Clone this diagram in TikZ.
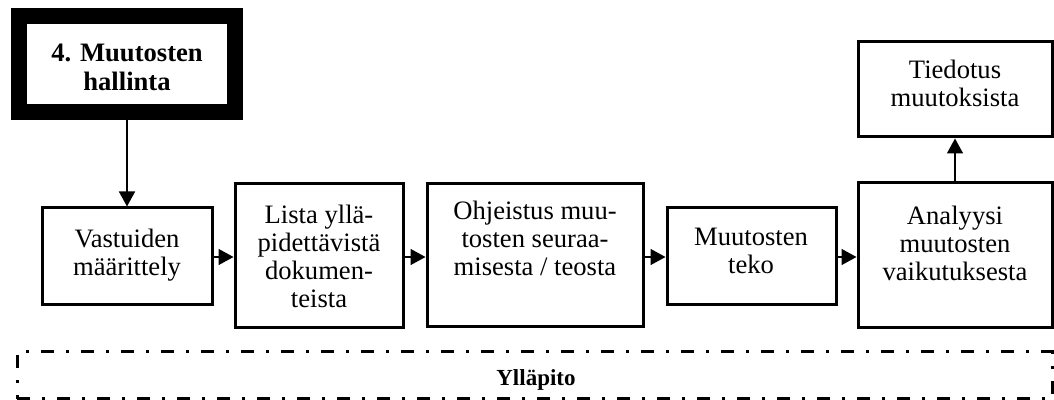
\documentclass[tikz,border=0pt]{standalone}
\usepackage{fontspec}
\setmainfont{Liberation Serif}
\usetikzlibrary{arrows.meta}
\begin{document}
\begin{tikzpicture}[x=0.5pt,y=-0.5pt,
  box/.style={draw, line width=1.5pt, rectangle, inner sep=0pt},
  heavybox/.style={draw, line width=8pt, rectangle, inner sep=0pt},
  caption/.style={align=center, inner sep=0pt, font=\fontsize{13.3}{14}\selectfont},
  flow/.style={line width=0.75pt, -{Triangle[length=7.5pt,width=8pt]}}]
\useasboundingbox (0,0) rectangle (1054,400);

% boxes
\node[heavybox, minimum width=108pt, minimum height=48pt] (hall) at (127,64) {};
\node[box, minimum width=85pt, minimum height=48.5pt] (vast) at (127,256.5) {};
\node[box, minimum width=84pt, minimum height=72pt] (lista) at (319,256) {};
\node[box, minimum width=108pt, minimum height=71.5pt] (ohje) at (535,255.5) {};
\node[box, minimum width=84.5pt, minimum height=48.5pt] (teko) at (751.5,256.5) {};
\node[box, minimum width=97pt, minimum height=72.5pt] (anal) at (955,255.5) {};
\node[box, minimum width=97pt, minimum height=47.5pt] (tied) at (955,89.5) {};
\node[draw, line width=1.5pt, dash pattern=on 6.5pt off 6pt on 1.5pt off 6pt,
      minimum width=517.5pt, minimum height=23.5pt, inner sep=0pt] (yll) at (534.5,375.5) {};

% texts
\node[caption, font=\fontsize{13.3}{14.5}\selectfont\bfseries] (thall) at (127,67.5) {4. Muutosten\\hallinta};
\node[caption] (tvast) at (127,255) {Vastuiden\\määrittely};
\node[caption] (tlista) at (319,256) {Lista yllä-\\pidettävistä\\dokumen-\\teista};
\node[caption] (tohje) at (535,238) {Ohjeistus muu-\\tosten seuraa-\\misesta / teosta};
\node[caption] (tteko) at (751,251) {Muutosten\\teko};
\node[caption] (tanal) at (955,243) {Analyysi\\muutosten\\vaikutuksesta};
\node[caption] (ttied) at (955,83) {Tiedotus\\muutoksista};
\node[inner sep=0pt, font=\fontsize{11.5}{13}\selectfont\bfseries] (tyll) at (536,380) {Ylläpito};

% connectors
\draw[flow] (hall.south) -- (vast.north);
\draw[flow] (vast.east |- 0,257) -- (lista.west |- 0,257);
\draw[flow] (lista.east |- 0,257) -- (ohje.west |- 0,257);
\draw[flow] (ohje.east |- 0,257) -- (teko.west |- 0,257);
\draw[flow] (teko.east |- 0,257) -- (anal.west |- 0,257);
\draw[flow] (anal.north) -- (tied.south);
\end{tikzpicture}
\end{document}
